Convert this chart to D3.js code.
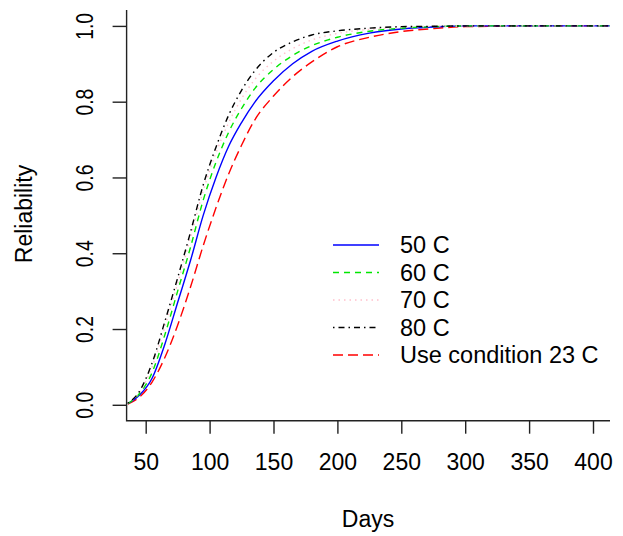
<!DOCTYPE html>
<html><head><meta charset="utf-8">
<script src="https://cdn.jsdelivr.net/npm/d3@7"></script>
<style>
html,body{margin:0;padding:0;background:#fff;}
svg text{font-family:"Liberation Sans",Arial,sans-serif;fill:#000;}
</style></head>
<body><svg id="c" width="623" height="536"></svg>
<script>
const days = [36, 45, 55, 65, 75, 85, 95, 105, 115, 125, 135, 150, 165, 180, 200, 225, 250, 275, 300, 325, 350, 413];
const rel50 = [0.003,0.025,0.07,0.16,0.27,0.38,0.5,0.6,0.683,0.745,0.797,0.855,0.9,0.933,0.96,0.981,0.992,0.997,1,1,1,1];
const rel60 = [0.003,0.029,0.085,0.185,0.3,0.415,0.54,0.64,0.72,0.782,0.833,0.885,0.922,0.948,0.97,0.986,0.994,0.998,1,1,1,1];
const rel70 = [0.004,0.032,0.1,0.205,0.32,0.44,0.565,0.665,0.745,0.808,0.857,0.907,0.94,0.963,0.98,0.991,0.996,0.999,1,1,1,1];
const rel80 = [0.004,0.035,0.11,0.22,0.335,0.455,0.58,0.68,0.765,0.83,0.88,0.93,0.958,0.976,0.987,0.994,0.998,0.999,1,1,1,1];
const rel23 = [0.002,0.02,0.06,0.125,0.21,0.31,0.42,0.52,0.61,0.685,0.75,0.815,0.866,0.905,0.945,0.97,0.985,0.993,0.998,0.999,1,1];
const seriesNames = ["50 C","60 C","70 C","80 C","Use condition 23 C"];
const seriesValues = [rel50, rel60, rel70, rel80, rel23];
const xTicks = [50,100,150,200,250,300,350,400];
const yTicks = [0,0.2,0.4,0.6,0.8,1.0];

const colors = ["#0000ff","#00e600","#ffc0cb","#000000","#ff0000"];
const dashes = [null,"6,5","1.5,4","1.5,4,6,4","10,5"];

const svg = d3.select("#c");
const L=126.6, R=610, T=10, B=420.7;
const x = d3.scaleLinear().domain([35.06, 413.3]).range([L, R]);
const y = d3.scaleLinear().domain([-0.042, 1.042]).range([B, T]);

// curves
const line = d3.line().x(d=>x(d[0])).y(d=>y(d[1])).curve(d3.curveMonotoneX);
const order = [4,0,1,2,3];
order.forEach(i=>{
  svg.append("path")
    .datum(days.map((d,j)=>[d, seriesValues[i][j]]))
    .attr("d", line)
    .attr("fill","none")
    .attr("stroke", colors[i])
    .attr("stroke-width",1.4)
    .attr("stroke-dasharray", dashes[i]);
});

// box L
svg.append("path").attr("d",`M${L},${T}V${B}H${R}`).attr("fill","none").attr("stroke","#222").attr("stroke-width",1.4);

// x axis
const xa = svg.append("g").attr("transform",`translate(0,${B})`)
  .call(d3.axisBottom(x).tickValues(xTicks).tickSize(13).tickSizeOuter(0).tickPadding(0));
xa.select(".domain").remove();
xa.selectAll(".tick line").attr("stroke","#222").attr("stroke-width",1.4);
xa.selectAll(".tick text").attr("font-size",23).attr("y",49).attr("dy",0)
  .style("font-family","Liberation Sans, Arial, sans-serif");

// y axis
const ya = svg.append("g").attr("transform",`translate(${L},0)`)
  .call(d3.axisLeft(y).tickValues(yTicks).tickFormat(d3.format(".1f")).tickSize(14).tickSizeOuter(0));
ya.select(".domain").remove();
ya.selectAll(".tick line").attr("stroke","#222").attr("stroke-width",1.4);
ya.selectAll(".tick text").attr("x",null).attr("dy",null)
  .attr("text-anchor","middle")
  .attr("font-size",23)
  .style("font-family","Liberation Sans, Arial, sans-serif")
  .attr("transform",`translate(${93-L},0) rotate(-90) scale(0.84,1)`);

// axis titles
svg.append("text").attr("x",368).attr("y",527).attr("text-anchor","middle").attr("font-size",23).text("Days");
svg.append("text").attr("transform","translate(32,214) rotate(-90)").attr("text-anchor","middle").attr("font-size",23).text("Reliability");

// legend
const lg = svg.append("g");
seriesNames.forEach((n,i)=>{
  const cy = 245 + i*27.5;
  lg.append("line").attr("x1",333).attr("x2",379).attr("y1",cy).attr("y2",cy)
    .attr("stroke",colors[i]).attr("stroke-width",1.4).attr("stroke-dasharray",dashes[i]);
  lg.append("text").attr("x",400).attr("y",cy+8.3).attr("font-size",23.5).text(n);
});
</script></body></html>
